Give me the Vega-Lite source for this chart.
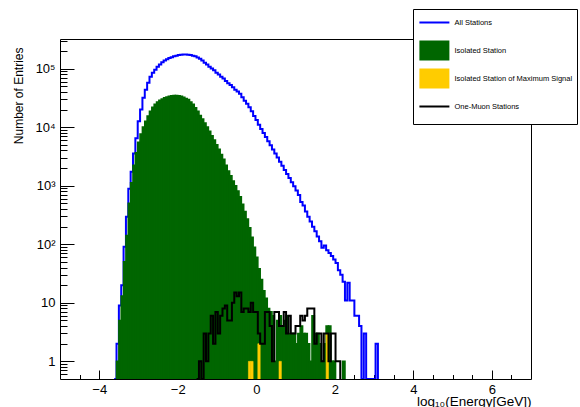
{
"$schema": "https://vega.github.io/schema/vega-lite/v6.json",
"width": 471, "height": 340,
"autosize": {"type": "none"},
"padding": {"left": 60, "top": 39, "right": 49, "bottom": 28},
"background": "white",
"config": {"view": {"stroke": "black", "strokeWidth": 1}, "font": "Liberation Sans"},
"datasets": {
"blue": [
{"lo":-3.62,"n":0},{"lo":-3.56,"n":2},{"lo":-3.50,"n":9},{"lo":-3.44,"n":20},{"lo":-3.38,"n":91},{"lo":-3.32,"n":295},{"lo":-3.26,"n":891},{"lo":-3.20,"n":1738},{"lo":-3.14,"n":3548},{"lo":-3.08,"n":6457},{"lo":-3.02,"n":12590},{"lo":-2.96,"n":19950},{"lo":-2.90,"n":31620},{"lo":-2.84,"n":43650},{"lo":-2.78,"n":57540},{"lo":-2.72,"n":72440},{"lo":-2.66,"n":85110},{"lo":-2.60,"n":95500},{"lo":-2.54,"n":107200},{"lo":-2.48,"n":117500},{"lo":-2.42,"n":128800},{"lo":-2.36,"n":138000},{"lo":-2.30,"n":144500},{"lo":-2.24,"n":151400},{"lo":-2.18,"n":156700},{"lo":-2.12,"n":162200},{"lo":-2.06,"n":166000},{"lo":-2.00,"n":169800},{"lo":-1.94,"n":171800},{"lo":-1.88,"n":173800},{"lo":-1.82,"n":173800},{"lo":-1.76,"n":171800},{"lo":-1.70,"n":169800},{"lo":-1.64,"n":166000},{"lo":-1.58,"n":162200},{"lo":-1.52,"n":154900},{"lo":-1.46,"n":147900},{"lo":-1.40,"n":136800},{"lo":-1.34,"n":125900},{"lo":-1.28,"n":117500},{"lo":-1.22,"n":107200},{"lo":-1.16,"n":100000},{"lo":-1.10,"n":93330},{"lo":-1.04,"n":85110},{"lo":-0.98,"n":79430},{"lo":-0.92,"n":72440},{"lo":-0.86,"n":67610},{"lo":-0.80,"n":61660},{"lo":-0.74,"n":56230},{"lo":-0.68,"n":52480},{"lo":-0.62,"n":47860},{"lo":-0.56,"n":43650},{"lo":-0.50,"n":40740},{"lo":-0.44,"n":37150},{"lo":-0.38,"n":32360},{"lo":-0.32,"n":28180},{"lo":-0.26,"n":25120},{"lo":-0.20,"n":21880},{"lo":-0.14,"n":18620},{"lo":-0.08,"n":15490},{"lo":-0.02,"n":13180},{"lo":0.04,"n":10960},{"lo":0.10,"n":9333},{"lo":0.16,"n":7943},{"lo":0.22,"n":6761},{"lo":0.28,"n":5754},{"lo":0.34,"n":4898},{"lo":0.40,"n":4169},{"lo":0.46,"n":3548},{"lo":0.52,"n":3020},{"lo":0.58,"n":2570},{"lo":0.64,"n":2188},{"lo":0.70,"n":1862},{"lo":0.76,"n":1585},{"lo":0.82,"n":1349},{"lo":0.88,"n":1148},{"lo":0.94,"n":977},{"lo":1.00,"n":832},{"lo":1.06,"n":692},{"lo":1.12,"n":525},{"lo":1.18,"n":457},{"lo":1.24,"n":363},{"lo":1.30,"n":295},{"lo":1.36,"n":245},{"lo":1.42,"n":200},{"lo":1.48,"n":166},{"lo":1.54,"n":135},{"lo":1.60,"n":112},{"lo":1.66,"n":87},{"lo":1.72,"n":95},{"lo":1.78,"n":79},{"lo":1.84,"n":71},{"lo":1.90,"n":63},{"lo":1.96,"n":55},{"lo":2.02,"n":48},{"lo":2.08,"n":36},{"lo":2.14,"n":30},{"lo":2.20,"n":23},{"lo":2.26,"n":11},{"lo":2.32,"n":22},{"lo":2.38,"n":11},{"lo":2.44,"n":11},{"lo":2.50,"n":6},{"lo":2.56,"n":6},{"lo":2.62,"n":4},{"lo":2.68,"n":0},{"lo":2.74,"n":3},{"lo":2.80,"n":0},{"lo":3.04,"n":2},{"lo":3.10,"n":0}
],
"green": [
{"lo":-3.56,"hi":-3.50,"n":1},{"lo":-3.50,"hi":-3.44,"n":5},{"lo":-3.44,"hi":-3.38,"n":13},{"lo":-3.38,"hi":-3.32,"n":50},{"lo":-3.32,"hi":-3.26,"n":141},{"lo":-3.26,"hi":-3.20,"n":501},{"lo":-3.20,"hi":-3.14,"n":1122},{"lo":-3.14,"hi":-3.08,"n":2239},{"lo":-3.08,"hi":-3.02,"n":3631},{"lo":-3.02,"hi":-2.96,"n":5495},{"lo":-2.96,"hi":-2.90,"n":7586},{"lo":-2.90,"hi":-2.84,"n":10000},{"lo":-2.84,"hi":-2.78,"n":12590},{"lo":-2.78,"hi":-2.72,"n":15490},{"lo":-2.72,"hi":-2.66,"n":18620},{"lo":-2.66,"hi":-2.60,"n":21880},{"lo":-2.60,"hi":-2.54,"n":24550},{"lo":-2.54,"hi":-2.48,"n":26920},{"lo":-2.48,"hi":-2.42,"n":28840},{"lo":-2.42,"hi":-2.36,"n":30200},{"lo":-2.36,"hi":-2.30,"n":31620},{"lo":-2.30,"hi":-2.24,"n":32730},{"lo":-2.24,"hi":-2.18,"n":33500},{"lo":-2.18,"hi":-2.12,"n":34280},{"lo":-2.12,"hi":-2.06,"n":34670},{"lo":-2.06,"hi":-2.00,"n":34670},{"lo":-2.00,"hi":-1.94,"n":34280},{"lo":-1.94,"hi":-1.88,"n":33500},{"lo":-1.88,"hi":-1.82,"n":32360},{"lo":-1.82,"hi":-1.76,"n":30900},{"lo":-1.76,"hi":-1.70,"n":29510},{"lo":-1.70,"hi":-1.64,"n":26920},{"lo":-1.64,"hi":-1.58,"n":24550},{"lo":-1.58,"hi":-1.52,"n":21380},{"lo":-1.52,"hi":-1.46,"n":18620},{"lo":-1.46,"hi":-1.40,"n":15850},{"lo":-1.40,"hi":-1.34,"n":13800},{"lo":-1.34,"hi":-1.28,"n":11750},{"lo":-1.28,"hi":-1.22,"n":10000},{"lo":-1.22,"hi":-1.16,"n":8511},{"lo":-1.16,"hi":-1.10,"n":7079},{"lo":-1.10,"hi":-1.04,"n":6026},{"lo":-1.04,"hi":-0.98,"n":5012},{"lo":-0.98,"hi":-0.92,"n":4169},{"lo":-0.92,"hi":-0.86,"n":3388},{"lo":-0.86,"hi":-0.80,"n":2818},{"lo":-0.80,"hi":-0.74,"n":2239},{"lo":-0.74,"hi":-0.68,"n":1778},{"lo":-0.68,"hi":-0.62,"n":1479},{"lo":-0.62,"hi":-0.56,"n":1202},{"lo":-0.56,"hi":-0.50,"n":1000},{"lo":-0.50,"hi":-0.44,"n":813},{"lo":-0.44,"hi":-0.38,"n":646},{"lo":-0.38,"hi":-0.32,"n":479},{"lo":-0.32,"hi":-0.26,"n":363},{"lo":-0.26,"hi":-0.20,"n":269},{"lo":-0.20,"hi":-0.14,"n":191},{"lo":-0.14,"hi":-0.08,"n":132},{"lo":-0.08,"hi":-0.02,"n":89},{"lo":-0.02,"hi":0.04,"n":60},{"lo":0.04,"hi":0.10,"n":38},{"lo":0.10,"hi":0.16,"n":25},{"lo":0.16,"hi":0.22,"n":16},{"lo":0.22,"hi":0.28,"n":12},{"lo":0.28,"hi":0.34,"n":8},{"lo":0.34,"hi":0.40,"n":7},{"lo":0.40,"hi":0.46,"n":6},{"lo":0.46,"hi":0.52,"n":1},{"lo":0.52,"hi":0.58,"n":5},{"lo":0.58,"hi":0.64,"n":6},{"lo":0.64,"hi":0.70,"n":4},{"lo":0.70,"hi":0.76,"n":5},{"lo":0.76,"hi":0.82,"n":6},{"lo":0.82,"hi":0.88,"n":3},{"lo":0.88,"hi":0.94,"n":3},{"lo":0.94,"hi":1.00,"n":3},{"lo":1.00,"hi":1.06,"n":2},{"lo":1.06,"hi":1.12,"n":3},{"lo":1.12,"hi":1.18,"n":4},{"lo":1.18,"hi":1.24,"n":3},{"lo":1.24,"hi":1.30,"n":3},{"lo":1.30,"hi":1.36,"n":2},{"lo":1.36,"hi":1.42,"n":1},{"lo":1.42,"hi":1.48,"n":6},{"lo":1.48,"hi":1.54,"n":3},{"lo":1.54,"hi":1.60,"n":3},{"lo":1.60,"hi":1.66,"n":2},{"lo":1.66,"hi":1.72,"n":1},{"lo":1.72,"hi":1.78,"n":2},{"lo":1.78,"hi":1.84,"n":4},{"lo":1.84,"hi":1.90,"n":4},{"lo":1.90,"hi":1.96,"n":1},{"lo":1.96,"hi":2.02,"n":1},{"lo":2.20,"hi":2.26,"n":1}
],
"yellow": [
{"lo":-0.20,"hi":-0.14,"n":1},{"lo":-0.14,"hi":-0.08,"n":1},{"lo":0.04,"hi":0.10,"n":2},{"lo":0.58,"hi":0.64,"n":1},{"lo":1.78,"hi":1.84,"n":3}
],
"black": [
{"lo":-1.52,"n":0},{"lo":-1.46,"n":1},{"lo":-1.40,"n":0},{"lo":-1.34,"n":3},{"lo":-1.28,"n":1},{"lo":-1.22,"n":3},{"lo":-1.16,"n":6},{"lo":-1.10,"n":2},{"lo":-1.04,"n":7},{"lo":-0.98,"n":3},{"lo":-0.92,"n":6},{"lo":-0.86,"n":8},{"lo":-0.80,"n":9},{"lo":-0.74,"n":5},{"lo":-0.68,"n":5},{"lo":-0.62,"n":10},{"lo":-0.56,"n":15},{"lo":-0.50,"n":13},{"lo":-0.44,"n":15},{"lo":-0.38,"n":7},{"lo":-0.32,"n":8},{"lo":-0.26,"n":8},{"lo":-0.20,"n":7},{"lo":-0.14,"n":10},{"lo":-0.08,"n":7},{"lo":-0.02,"n":7},{"lo":0.04,"n":3},{"lo":0.10,"n":2},{"lo":0.16,"n":2},{"lo":0.22,"n":7},{"lo":0.28,"n":7},{"lo":0.34,"n":4},{"lo":0.40,"n":1},{"lo":0.46,"n":7},{"lo":0.52,"n":7},{"lo":0.58,"n":4},{"lo":0.64,"n":4},{"lo":0.70,"n":7},{"lo":0.76,"n":3},{"lo":0.82,"n":6},{"lo":0.88,"n":3},{"lo":0.94,"n":3},{"lo":1.00,"n":4},{"lo":1.06,"n":4},{"lo":1.12,"n":6},{"lo":1.18,"n":5},{"lo":1.24,"n":6},{"lo":1.30,"n":8},{"lo":1.36,"n":8},{"lo":1.42,"n":8},{"lo":1.48,"n":2},{"lo":1.54,"n":3},{"lo":1.60,"n":3},{"lo":1.66,"n":1},{"lo":1.72,"n":3},{"lo":1.78,"n":3},{"lo":1.84,"n":1},{"lo":1.90,"n":3},{"lo":1.96,"n":3},{"lo":2.02,"n":1},{"lo":2.08,"n":1},{"lo":2.14,"n":0}
],
"legend": [
{"s":"All  Stations"},{"s":"Isolated Station"},{"s":"Isolated Station of Maximum Signal"},{"s":"One-Muon Stations"}
]
},
"layer": [
{"data": {"name": "blue"},
 "mark": {"type": "line", "interpolate": "step-after", "color": "#0000ff", "strokeWidth": 2, "clip": true},
 "encoding": {
  "x": {"field": "lo", "type": "quantitative", "scale": {"domain": [-5, 7], "nice": false, "zero": false},
        "axis": {"orient": "bottom", "values": [-4.5,-3.5,-3,-2.5,-1.5,-1,-0.5,0.5,1,1.5,2.5,3,3.5,4.5,5,5.5,6.5], "tickSize": -4.5, "tickColor": "black", "labels": false, "domain": false, "grid": false, "title": null}},
  "y": {"field": "n", "type": "quantitative", "scale": {"type": "log", "domain": [0.5, 320000], "nice": false, "clamp": true},
        "axis": {"orient": "left", "values": [0.6,0.7,0.8,0.9,2,3,4,5,6,7,8,9,20,30,40,50,60,70,80,90,200,300,400,500,600,700,800,900,2000,3000,4000,5000,6000,7000,8000,9000,20000,30000,40000,50000,60000,70000,80000,90000,200000,300000], "tickSize": -7, "tickColor": "black", "labels": false, "domain": false, "grid": false, "title": null}}
 }},
{"data": {"name": "green"},
 "mark": {"type": "bar", "color": "#006600", "stroke": "#006600", "strokeWidth": 1.6, "clip": true},
 "encoding": {
  "x": {"field": "lo", "type": "quantitative", "scale": {"domain": [-5, 7], "nice": false, "zero": false},
        "axis": {"orient": "bottom", "values": [-4,-2,0,2,4,6], "tickSize": -9, "tickColor": "black", "labelPadding": 13, "labelFontSize": 13, "labelColor": "black", "labelFont": "Liberation Sans", "domain": false, "grid": false, "labelFlush": false,
                 "title": "log₁₀(Energy[GeV])", "titleAnchor": "end", "titleAlign": "right", "titleX": 471, "titleY": 26, "titleBaseline": "alphabetic", "titleFontSize": 13.5, "titleFontWeight": "normal", "titleColor": "black", "titleFont": "Liberation Sans"}},
  "x2": {"field": "hi"},
  "y": {"field": "n", "type": "quantitative", "scale": {"type": "log", "domain": [0.5, 320000], "nice": false, "clamp": true},
        "axis": {"orient": "left", "values": [1,10,100,1000,10000,100000], "tickSize": -14, "tickColor": "black", "labelPadding": 19, "labelFontSize": 13, "labelColor": "black", "labelFont": "Liberation Sans", "domain": false, "grid": false, "labelFlush": false,
                 "labelExpr": "datum.value == 1 ? '1' : datum.value == 10 ? '10' : datum.value == 100 ? '10²' : datum.value == 1000 ? '10³' : datum.value == 10000 ? '10⁴' : '10⁵'",
                 "title": "Number of Entries", "titleAngle": 270, "titleAlign": "right", "titleBaseline": "middle", "titleX": -42, "titleY": 8, "titleFontSize": 12, "titleFontWeight": "normal", "titleColor": "black", "titleFont": "Liberation Sans"}},
  "y2": {"datum": 0.5}
 }},
{"data": {"name": "yellow"},
 "mark": {"type": "bar", "color": "#ffcc00", "stroke": "#ffcc00", "strokeWidth": 0.6, "clip": true},
 "encoding": {
  "x": {"field": "lo", "type": "quantitative", "scale": {"domain": [-5, 7], "nice": false, "zero": false}, "axis": null},
  "x2": {"field": "hi"},
  "y": {"field": "n", "type": "quantitative", "scale": {"type": "log", "domain": [0.5, 320000], "nice": false, "clamp": true}, "axis": null},
  "y2": {"datum": 0.5}
 }},
{"data": {"name": "black"},
 "mark": {"type": "line", "interpolate": "step-after", "color": "#000000", "strokeWidth": 2, "clip": true},
 "encoding": {
  "x": {"field": "lo", "type": "quantitative", "scale": {"domain": [-5, 7], "nice": false, "zero": false}, "axis": null},
  "y": {"field": "n", "type": "quantitative", "scale": {"type": "log", "domain": [0.5, 320000], "nice": false, "clamp": true}, "axis": null}
 }},
{"data": {"name": "legend"},
 "mark": {"type": "point", "filled": true, "opacity": 0},
 "encoding": {
  "color": {"field": "s", "type": "nominal",
    "scale": {"domain": ["All  Stations", "Isolated Station", "Isolated Station of Maximum Signal", "One-Muon Stations"], "range": ["#0000ff", "#006600", "#ffcc00", "#000000"]},
    "legend": {"title": null, "orient": "none", "direction": "vertical", "legendX": 353, "legendY": -30, "padding": 4, "strokeColor": "black", "fillColor": "white",
      "symbolSize": 282, "rowPadding": 1, "symbolOffset": 7.9, "labelOffset": 10.6, "labelFontSize": 7.5, "labelFont": "Liberation Sans", "labelColor": "black", "labelLimit": 300, "symbolStrokeWidth": 2, "symbolOpacity": 1,
      "encode": {"symbols": {"update": {
        "shape": {"signal": "datum.value === 'All  Stations' || datum.value === 'One-Muon Stations' ? 'M-1.786,-1.07M-1.786,1.07M-1.786,0H1.786' : 'M-1.667,-1.07H1.667V1.07H-1.667Z'"},
        "fill": {"scale": "color", "field": "value"},
        "stroke": {"scale": "color", "field": "value"},
        "strokeWidth": {"value": 2},
        "opacity": {"value": 1}
      }}}}
  }
 }}
],
"resolve": {"axis": {"x": "independent", "y": "independent"}}
}
